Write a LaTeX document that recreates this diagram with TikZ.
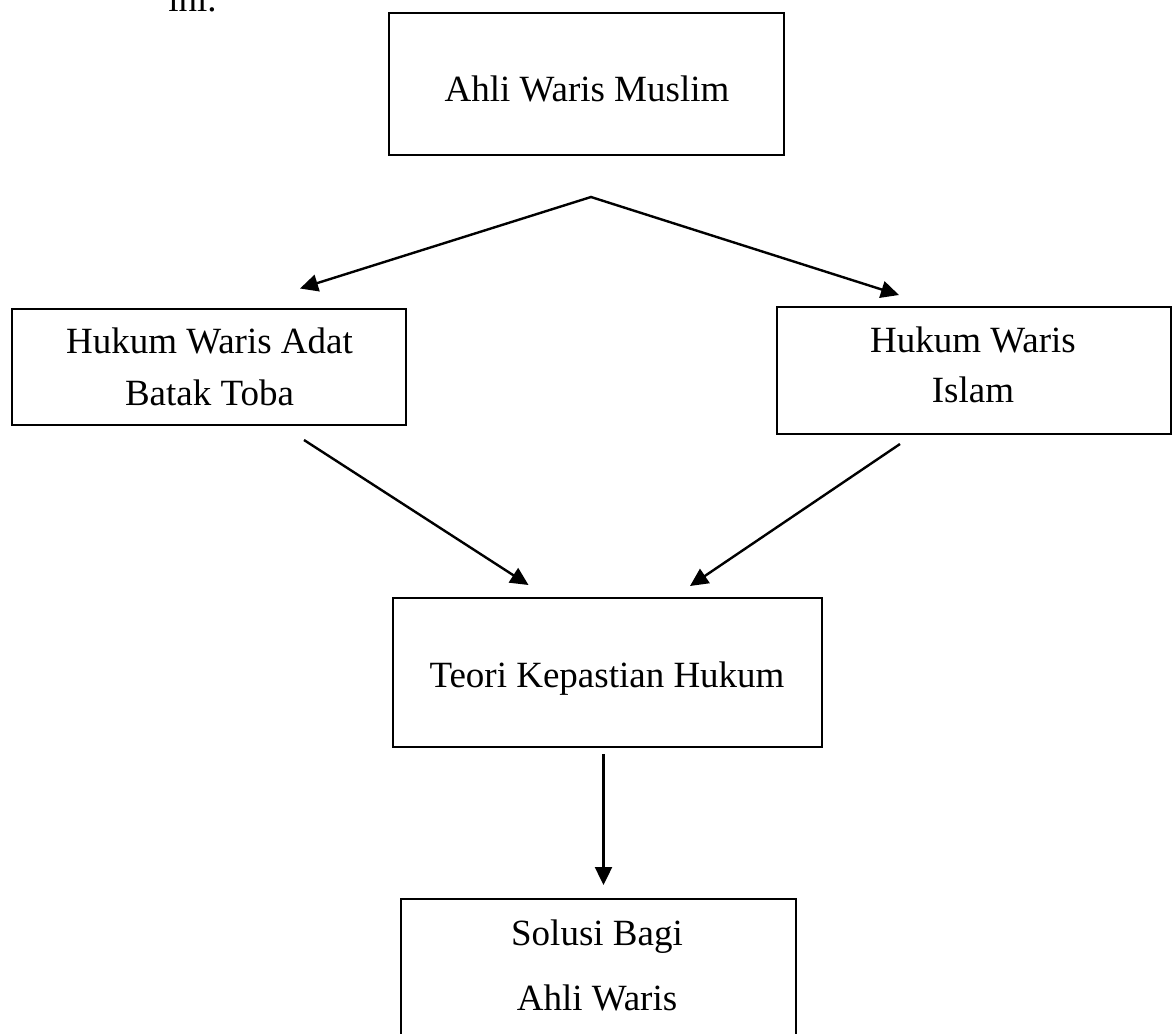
\documentclass[tikz,border=0pt]{standalone}
\usepackage{fontspec}
\setmainfont{Liberation Serif}
\usetikzlibrary{arrows.meta}
\tikzset{
  box/.style={draw=black, line width=1pt, inner sep=0pt, fill=none},
  txt/.style={anchor=base, inner sep=0pt, font=\fontsize{18.5pt}{22pt}\selectfont},
  conn/.style={line width=1.2pt, -{Triangle[length=9pt,width=8.5pt]}},
  conn2/.style={line width=1.2pt, {Triangle[length=9pt,width=8.5pt]}-{Triangle[length=9pt,width=8.5pt]}, line join=miter}
}
\begin{document}
\begin{tikzpicture}[x=0.5pt, y=-0.5pt]
\useasboundingbox (0,0) rectangle (1174,1034);

% boxes
\node[box, minimum width=197.5pt, minimum height=71pt] (top) at (586.5,84) {};
\node[box, minimum width=197pt, minimum height=58pt] (adat) at (209,367) {};
\node[box, minimum width=197pt, minimum height=63.5pt] (islam) at (974,370.5) {};
\node[box, minimum width=214.5pt, minimum height=74.5pt] (teori) at (607.5,672) {};
\node[box, minimum width=197.5pt, minimum height=100.5pt] (solusi) at (598,999.5) {};

% texts
\node[txt, anchor=base west] (ini) at (168,11) {ini.};
\node[txt] (tTop) at (587,101) {Ahli Waris Muslim};
\node[txt] (tAdat1) at (209.5,353) {Hukum Waris Adat};
\node[txt] (tAdat2) at (209.5,405) {Batak Toba};
\node[txt] (tIslam1) at (973,352) {Hukum Waris};
\node[txt] (tIslam2) at (973,402) {Islam};
\node[txt] (tTeori) at (607,687) {Teori Kepastian Hukum};
\node[txt] (tSolusi1) at (597,945) {Solusi Bagi};
\node[txt] (tSolusi2) at (597,1010.5) {Ahli Waris};

% connector end points
\coordinate (apex) at (591,197);
\coordinate (tipL) at (300,288.5);
\coordinate (tipR) at (899,295);
\coordinate (adatOut) at (304,440);
\coordinate (teoriInL) at (528.5,585);
\coordinate (islamOut) at (900,444);
\coordinate (teoriInR) at (690,586);
\coordinate (teoriOut) at (603.5,754);
\coordinate (solusiIn) at (603.5,885);

% connectors
\draw[conn2] (tipL) -- (apex) -- (tipR);
\draw[conn] (adatOut) -- (teoriInL);
\draw[conn] (islamOut) -- (teoriInR);
\draw[conn] (teoriOut) -- (solusiIn);
\end{tikzpicture}
\end{document}
